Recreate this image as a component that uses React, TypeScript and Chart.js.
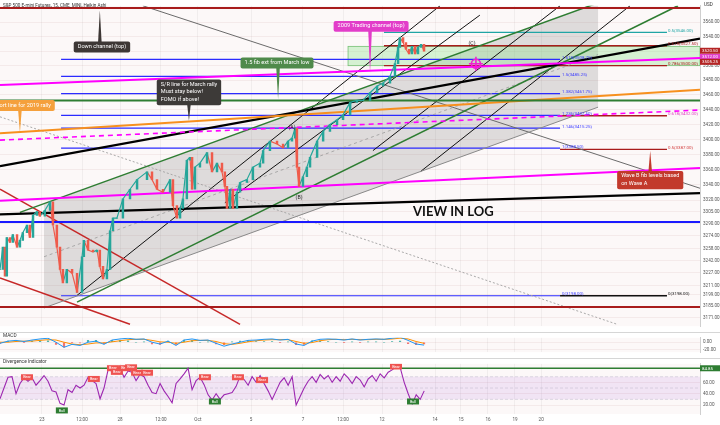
import React, { useEffect, useRef } from 'react';
import { Chart, registerables } from 'chart.js';
Chart.register(...registerables);

const FONT = 'Roboto, "Liberation Sans", sans-serif';
const PLOT_BG = '#fcf8f8';
const UP = '#26a69a';
const DOWN = '#ef5b4b';

// ---------- time axis (trading-day index, 0 = Sep 23) ----------
const xMin = -1.6;
const xMax = 25.11;
const timeTickValues = [0, 1.53, 2.98, 4.54, 5.95, 7.98, 9.96, 11.49, 12.98, 15.0, 15.99, 17.02, 18.05, 19.05];
const timeTickLabels = ['23', '12:00', '28', '12:00', 'Oct', '5', '7', '12:00', '12', '14', '15', '16', '19', '20'];

// ---------- price axis (log) ----------
const priceMin = 3160;
const priceMax = 3583.2;
const priceTicks = [3171, 3185, 3199, 3211, 3227, 3242, 3258, 3274, 3290, 3305, 3320, 3340, 3360, 3380, 3400, 3420, 3440, 3460, 3480, 3500, 3520, 3540, 3560];

// ---------- price series (Heikin Ashi closes, 15 min) ----------
const priceT = [-1.60,-1.49,-1.41,-1.34,-1.22,-1.11,-0.95,-0.84,-0.73,-0.57,
  -0.46,-0.34,-0.19,-0.08,0.11,0.31,0.42,0.57,0.69,0.80,
  0.95,1.15,1.34,1.53,1.60,1.76,1.95,2.10,2.21,2.33,
  2.48,2.60,2.71,2.86,3.09,3.36,3.63,4.01,4.20,4.39,
  4.62,4.89,5.00,5.15,5.27,5.38,5.53,5.65,5.73,5.84,
  6.03,6.30,6.49,6.68,6.87,6.98,7.06,7.18,7.29,7.44,
  7.56,7.82,8.05,8.32,8.44,8.70,8.97,9.20,9.39,9.54,
  9.66,9.73,9.81,9.96,10.11,10.23,10.50,10.73,10.99,11.26,
  11.49,11.76,12.02,12.25,12.52,12.79,13.02,13.28,13.47,13.59,
  13.66,13.78,13.89,14.01,14.12,14.24,14.35,14.47,14.58];
const priceClose = [3231.3,3259.5,3222.8,3271.9,3265.7,3275.6,3259.5,3268.2,3278.1,3288.0,
  3271.9,3300.5,3305.5,3299.3,3306.8,3318.0,3288.0,3259.5,3231.3,3214.3,
  3231.3,3226.4,3202.1,3247.3,3268.2,3255.8,3253.4,3255.8,3235.0,3219.1,
  3231.3,3280.6,3296.8,3296.8,3321.8,3334.4,3347.0,3357.2,3347.0,3334.4,
  3330.6,3347.0,3313.0,3296.8,3309.3,3321.8,3372.5,3376.3,3334.4,3363.5,
  3368.7,3382.7,3357.2,3368.7,3357.2,3338.2,3309.3,3334.4,3309.3,3330.6,
  3343.2,3347.0,3363.5,3368.7,3385.3,3398.0,3394.1,3389.0,3398.0,3401.9,
  3414.9,3363.5,3338.2,3350.8,3363.5,3376.3,3398.0,3411.0,3420.1,3426.6,
  3433.1,3450.0,3452.6,3452.6,3463.1,3472.2,3476.2,3485.3,3502.7,3525.3,
  3538.6,3532.0,3522.6,3516.0,3526.6,3516.0,3525.3,3529.3,3520.0];

// ---------- drawn lines [t, price] ----------
const topRedLine = [[xMin, 3580], [xMax, 3580]];
const greenHLine = [[xMin, 3452.6], [xMax, 3452.6]];
const blueHLine = [[xMin, 3291.8], [xMax, 3291.8]];
const redHLine = [[xMin, 3184.0], [xMax, 3184.0]];
const magentaUpper = [[xMin, 3473.6], [xMax, 3510.7]];
const magentaDashed = [[xMin, 3399.3], [xMax, 3439.6]];
const magentaLower = [[xMin, 3319.3], [xMax, 3362.3]];
const orangeLine = [[xMin, 3408.4], [xMax, 3467.0]];
const blackUpper = [[xMin, 3364.8], [xMax, 3537.3]];
const blackLower = [[xMin, 3301.8], [xMax, 3329.4]];
const greenChannelTop = [[-0.84, 3304.3], [21.22, 3587.3]];
const greenLower = [[1.34, 3190.0], [24.27, 3583.2]];
const grayChannelBottom = [[0.08, 3182.8], [21.22, 3443.5]];
const grayChannelMid = [[0.08, 3247.3], [21.22, 3515.3]];
const grayDownLine = [[3.85, 3583.2], [xMax, 3335.7]];
const grayDotted = [[xMin, 3430.5], [21.95, 3162.4]];
const redDown1 = [[xMin, 3334.4], [7.56, 3162.4]];
const redDown2 = [[xMin, 3220.4], [3.36, 3162.4]];
const thinBlack1 = [[1.34, 3198.5], [15.19, 3583.2]];
const thinBlack2 = [[6.98, 3316.8], [16.71, 3570.0]];
const thinBlack3 = [[12.63, 3385.3], [19.77, 3583.2]];
const thinBlack4 = [[14.43, 3357.2], [22.44, 3583.2]];
const channelPolygon = [[0.08, 3315.5], [21.22, 3587.3], [21.22, 3443.5], [0.08, 3182.8]];
const greenZoneT = [11.68, xMax];
const greenZoneP = [3500.0, 3526.6];

// fib extension (blue) from March low
const fibBlueSpan = [0.73, 19.77];
const fibBlueLevels = [3198.0, 3388.5, 3415.25, 3432.5, 3461.75, 3485.25, 3508.75];
const fibBlueLabels = ['0(3198.00)', '1(3388.50)', '1.146(3415.25)', '1.236(3432.50)', '1.382(3461.75)', '1.5(3485.25)', '1.618(3508.75)'];
// Wave B fib levels based on Wave A
const waveBSpan = [19.77, 23.85];
const waveBLevels = [3198.0, 3387.0, 3432.0];
const waveBLabels = ['0(3198.00)', '0.5(3387.00)', '0.618(3432.00)'];
const waveBColors = ['#111111', '#a81c1c', '#a81c1c'];
const waveBTextColors = ['#111111', '#d23a3a', '#e040c0'];
const upperFibSpan = [13.05, 23.85];
const upperFibLevels = [3500.0, 3527.5, 3546.0];
const upperFibLabels = ['0.786(3500.00)', '0.618(3527.50)', '0.5(3546.00)'];
const upperFibColors = ['#a81c1c', '#a81c1c', '#1fa5a5'];

// callouts
const calloutText = [
  ['Down channel (top)'],
  ['2009 Trading channel (top)'],
  ['1.5 fib ext from March low'],
  ['S/R line for March rally', 'Must stay below!', 'FOMO if above!'],
  ['Support line for 2019 rally'],
  ['Wave B fib levels based', 'on Wave A'],
];
const calloutColors = ['#3d3735', '#e23dc9', '#4f8a4b', '#3d3a38', '#f5a03c', '#c23a2c'];
const calloutBoxT = [2.29, 12.56, 8.97, 5.61, -0.88, 23.21];
const calloutTipT = [2.21, 12.52, 9.01, 5.61, -0.84, 23.21];
const calloutTipP = [3576.4, 3489.7, 3453.9, 3425.3, 3408.4, 3385.3];
const calloutEdgeP = [3533.3, 3546.7, 3496.2, 3446.1, 3438.3, 3358.4];

const waveLabels = ['(A)', '(B)', '(C)'];
const waveLabelT = [9.54, 9.81, 16.41];
const waveLabelP = [3416.2, 3323.1, 3530.6];
const targetPoint = [16.56, 3502.7];
const logNoteT = 14.16;
const logNoteP = 3305.5;

const axisBoxValues = [3520.5, 3512.0, 3505.25];
const axisBoxColors = ['#b42424', '#e23dc9', '#b42424'];

// ---------- MACD ----------
const macdStartT = -1.6;
const macdStepT = 0.3053;
const macdValues = [-3,3,5,2,6,9,11,0,-14,-6,-9,0,3,-6,6,9,11,8,9,0,-5,3,-9,6,9,5,6,-3,-11,-5,0,5,6,8,9,6,8,-5,-9,3,8,9,8,6,9,6,8,9,8,11,14,5,-5,-8];
const signalValues = [0,0,2,3,3,5,7,6,0,-5,-7,-5,-2,-2,1,4,7,8,8,5,1,0,-3,0,4,5,5,2,-4,-6,-3,1,4,6,7,7,7,2,-3,-1,4,7,8,7,8,7,7,8,8,9,11,9,2,-3];
const macdTicks = [0, -20];

// ---------- Divergence indicator (RSI) ----------
const rsiStartT = -1.6;
const rsiStepT = 0.1527;
const rsiValues = [31,50,69,70,40,58,68,62,68,55,63,72,62,45,43,23,20,47,42,55,
  50,55,69,63,58,31,50,82,80,82,85,69,80,78,63,74,70,55,42,40,
  58,45,35,24,58,66,75,85,47,63,69,56,38,29,40,30,38,40,42,53,71,
  65,55,70,60,72,58,45,30,45,60,68,55,70,20,35,50,62,70,60,74,
  66,72,60,70,62,75,68,58,70,64,52,66,72,62,75,68,78,82,88,86,
  60,40,22,38,30,45];
const rsiTicks = [20, 40, 60];
const rsiLevel = 84.85;
const bearT = [-0.57, 1.98, 2.71, 2.86, 3.17, 3.40, 3.63, 4.01, 6.22, 7.48, 8.40, 13.51];
const bearV = [69, 66, 85, 78.5, 85, 86.5, 77, 77, 69, 69, 64, 88];
const bullT = [0.76, 6.60, 14.16];
const bullV = [10.5, 26.3, 26.3];

// ---------- helpers ----------
function seg(pts: number[][], color: string, width: number, dash: number[] = [], order = 10) {
  return {
    type: 'line', data: pts.map(([x, y]) => ({ x, y })), borderColor: color, borderWidth: width,
    borderDash: dash, pointRadius: 0, fill: false, tension: 0, order,
  };
}

function timeScale(showLabels: boolean) {
  return {
    type: 'linear', min: xMin, max: xMax, display: true, offset: false,
    afterBuildTicks(s: any) { s.ticks = timeTickValues.map((v) => ({ value: v })); },
    afterFit(s: any) { s.height = showLabels ? 11 : 0; },
    grid: { color: 'rgba(0,0,0,0.045)', drawTicks: false, offset: false },
    border: { display: false },
    ticks: {
      display: showLabels, autoSkip: false, maxRotation: 0, padding: 3,
      font: { size: 4.6, family: FONT }, color: '#555',
      callback: (_v: any, i: number) => timeTickLabels[i],
    },
  };
}

function rightScale(extra: any) {
  return {
    position: 'right',
    beginAtZero: false,
    afterFit(s: any) { s.width = 20; },
    border: { display: true, color: '#cfcfcf' },
    grid: { color: 'rgba(190,140,140,0.13)', drawTicks: false },
    ticks: { font: { size: 4.6, family: FONT }, color: '#555', padding: 3, callback: (v: any) => Number(v).toFixed(2) },
    ...extra,
  };
}

function roundRect(ctx: any, x: number, y: number, w: number, h: number, r: number) {
  ctx.beginPath();
  ctx.moveTo(x + r, y);
  ctx.lineTo(x + w - r, y); ctx.quadraticCurveTo(x + w, y, x + w, y + r);
  ctx.lineTo(x + w, y + h - r); ctx.quadraticCurveTo(x + w, y + h, x + w - r, y + h);
  ctx.lineTo(x + r, y + h); ctx.quadraticCurveTo(x, y + h, x, y + h - r);
  ctx.lineTo(x, y + r); ctx.quadraticCurveTo(x, y, x + r, y);
  ctx.closePath();
}

function axisBox(ctx: any, x: number, y: number, text: string, bg: string) {
  ctx.fillStyle = bg;
  ctx.fillRect(x, y - 3, 20, 6);
  ctx.fillStyle = '#fff';
  ctx.font = `4.4px ${FONT}`;
  ctx.textAlign = 'left';
  ctx.textBaseline = 'middle';
  ctx.fillText(text, x + 2, y + 0.3);
}

const mainDecor = {
  id: 'mainDecor',
  beforeDraw(chart: any) {
    const { ctx, chartArea: a } = chart;
    ctx.save();
    ctx.fillStyle = '#ffffff';
    ctx.fillRect(0, 0, chart.width, chart.height);
    ctx.fillStyle = PLOT_BG;
    ctx.fillRect(a.left, a.top, a.right - a.left, a.bottom - a.top);
    ctx.restore();
  },
  beforeDatasetsDraw(chart: any) {
    const { ctx, chartArea: a, scales } = chart;
    const x = scales.x, y = scales.y;
    ctx.save();
    ctx.beginPath(); ctx.rect(a.left, a.top, a.right - a.left, a.bottom - a.top); ctx.clip();
    ctx.beginPath();
    channelPolygon.forEach(([t, p], i) => {
      const px = x.getPixelForValue(t), py = y.getPixelForValue(p);
      if (i) ctx.lineTo(px, py); else ctx.moveTo(px, py);
    });
    ctx.closePath();
    ctx.fillStyle = 'rgba(105,105,105,0.2)';
    ctx.fill();
    const zx1 = x.getPixelForValue(greenZoneT[0]), zx2 = x.getPixelForValue(greenZoneT[1]);
    const zy1 = y.getPixelForValue(greenZoneP[1]), zy2 = y.getPixelForValue(greenZoneP[0]);
    ctx.fillStyle = 'rgba(140,230,140,0.35)';
    ctx.fillRect(zx1, zy1, zx2 - zx1, zy2 - zy1);
    ctx.strokeStyle = 'rgba(90,180,90,0.8)';
    ctx.lineWidth = 0.8;
    ctx.strokeRect(zx1, zy1, zx2 - zx1, zy2 - zy1);
    ctx.restore();
  },
  afterDatasetsDraw(chart: any) {
    const { ctx, chartArea: a, scales } = chart;
    const x = scales.x, y = scales.y;
    ctx.save();
    ctx.beginPath(); ctx.rect(a.left, a.top, a.right - a.left, a.bottom - a.top); ctx.clip();
    // fib labels
    ctx.font = `4.4px ${FONT}`;
    ctx.textAlign = 'left';
    ctx.textBaseline = 'bottom';
    fibBlueLevels.forEach((p, i) => {
      ctx.fillStyle = '#3a3aff';
      ctx.fillText(fibBlueLabels[i], x.getPixelForValue(fibBlueSpan[1]) + 2, y.getPixelForValue(p) + 0.5);
    });
    waveBLevels.forEach((p, i) => {
      ctx.fillStyle = waveBTextColors[i];
      ctx.fillText(waveBLabels[i], x.getPixelForValue(waveBSpan[1]) + 1, y.getPixelForValue(p) + 0.5);
    });
    upperFibLevels.forEach((p, i) => {
      ctx.fillStyle = upperFibColors[i];
      ctx.fillText(upperFibLabels[i], x.getPixelForValue(upperFibSpan[1]) + 1, y.getPixelForValue(p) + 0.5);
    });
    // wave labels
    ctx.font = `5.2px ${FONT}`;
    ctx.fillStyle = '#222';
    ctx.textAlign = 'center';
    ctx.textBaseline = 'middle';
    waveLabels.forEach((s, i) => ctx.fillText(s, x.getPixelForValue(waveLabelT[i]), y.getPixelForValue(waveLabelP[i])));
    // target icon
    const tx = x.getPixelForValue(targetPoint[0]), ty = y.getPixelForValue(targetPoint[1]);
    ctx.strokeStyle = '#f020d0';
    ctx.lineWidth = 1.6;
    ctx.beginPath(); ctx.arc(tx, ty, 4.5, 0, Math.PI * 2); ctx.stroke();
    ctx.beginPath();
    ctx.moveTo(tx - 7, ty); ctx.lineTo(tx + 7, ty);
    ctx.moveTo(tx, ty - 7); ctx.lineTo(tx, ty + 7);
    ctx.stroke();
    // VIEW IN LOG
    ctx.font = `bold 13px Lato, ${FONT}`;
    ctx.fillStyle = '#111';
    ctx.textAlign = 'left';
    ctx.textBaseline = 'middle';
    ctx.fillText('VIEW IN LOG', x.getPixelForValue(logNoteT), y.getPixelForValue(logNoteP));
    // callouts
    calloutText.forEach((lines, i) => {
      const size = 5.6;
      ctx.font = `${size}px ${FONT}`;
      const lh = size + 1.8;
      const w = Math.max(...lines.map((l) => ctx.measureText(l).width)) + 8;
      const h = lines.length * lh + 3.5;
      const cx = x.getPixelForValue(calloutBoxT[i]);
      const tipX = x.getPixelForValue(calloutTipT[i]);
      const tipY = y.getPixelForValue(calloutTipP[i]);
      const edgeY = y.getPixelForValue(calloutEdgeP[i]);
      const up = tipY < edgeY;
      const top = up ? edgeY : edgeY - h;
      const left = cx - w / 2;
      ctx.fillStyle = calloutColors[i];
      ctx.beginPath();
      const baseY = up ? top + 1 : top + h - 1;
      ctx.moveTo(tipX - 1.8, baseY); ctx.lineTo(tipX, tipY); ctx.lineTo(tipX + 1.8, baseY); ctx.closePath();
      ctx.fill();
      roundRect(ctx, left, top, w, h, 2);
      ctx.fill();
      ctx.fillStyle = '#ffffff';
      ctx.textBaseline = 'top';
      const multi = lines.length > 1;
      ctx.textAlign = multi ? 'left' : 'center';
      lines.forEach((l, k) => ctx.fillText(l, multi ? left + 4 : cx, top + 2.2 + k * lh));
    });
    ctx.restore();
    // title
    ctx.save();
    ctx.font = `4.6px ${FONT}`;
    ctx.fillStyle = '#333';
    ctx.textAlign = 'left';
    ctx.textBaseline = 'middle';
    ctx.fillText('S&P 500 E-mini Futures, 15, CME_MINI, Heikin Ashi', 3, 6);
    ctx.fillText('USD', 704, 5);
    axisBoxValues.forEach((v, i) => axisBox(ctx, a.right, y.getPixelForValue(v), v.toFixed(2), axisBoxColors[i]));
    ctx.restore();
  },
};

const macdDecor = {
  id: 'macdDecor',
  beforeDraw(chart: any) {
    const { ctx, chartArea: a } = chart;
    ctx.save();
    ctx.fillStyle = '#ffffff'; ctx.fillRect(0, 0, chart.width, chart.height);
    ctx.fillStyle = PLOT_BG; ctx.fillRect(a.left, a.top, a.right - a.left, a.bottom - a.top);
    ctx.restore();
  },
  afterDraw(chart: any) {
    const { ctx } = chart;
    ctx.save();
    ctx.strokeStyle = '#d6d6d6'; ctx.lineWidth = 1;
    ctx.beginPath(); ctx.moveTo(0, 0.5); ctx.lineTo(chart.width, 0.5); ctx.stroke();
    ctx.font = `4.8px ${FONT}`; ctx.fillStyle = '#333'; ctx.textBaseline = 'middle'; ctx.textAlign = 'left';
    ctx.fillText('MACD', 3, 3.5);
    ctx.restore();
  },
};

const divDecor = {
  id: 'divDecor',
  beforeDraw(chart: any) {
    const { ctx, chartArea: a } = chart;
    ctx.save();
    ctx.fillStyle = '#ffffff'; ctx.fillRect(0, 0, chart.width, chart.height);
    ctx.fillStyle = PLOT_BG; ctx.fillRect(a.left, a.top, a.right - a.left, a.bottom - a.top);
    ctx.restore();
  },
  beforeDatasetsDraw(chart: any) {
    const { ctx, chartArea: a, scales } = chart;
    const y = scales.y;
    ctx.save();
    const y70 = y.getPixelForValue(70), y30 = y.getPixelForValue(30), y50 = y.getPixelForValue(50);
    ctx.fillStyle = 'rgba(170,90,220,0.13)';
    ctx.fillRect(a.left, y70, a.right - a.left, y30 - y70);
    ctx.strokeStyle = 'rgba(150,150,170,0.35)'; ctx.lineWidth = 0.8; ctx.setLineDash([3, 2]);
    [y70, y50, y30].forEach((yy) => { ctx.beginPath(); ctx.moveTo(a.left, yy); ctx.lineTo(a.right, yy); ctx.stroke(); });
    ctx.restore();
  },
  afterDatasetsDraw(chart: any) {
    const { ctx, chartArea: a, scales } = chart;
    const x = scales.x, y = scales.y;
    ctx.save();
    ctx.beginPath(); ctx.rect(a.left, a.top, a.right - a.left, a.bottom - a.top); ctx.clip();
    ctx.font = `3.8px ${FONT}`; ctx.textAlign = 'center'; ctx.textBaseline = 'middle';
    const mark = (t: number, v: number, s: string, bg: string) => {
      const px = x.getPixelForValue(t), py = y.getPixelForValue(v);
      ctx.fillStyle = bg; ctx.fillRect(px - 6, py - 3, 12, 6);
      ctx.fillStyle = '#fff'; ctx.fillText(s, px, py + 0.2);
    };
    bearT.forEach((t, i) => mark(t, bearV[i], 'Bear', '#ef5350'));
    bullT.forEach((t, i) => mark(t, bullV[i], 'Bull', '#2e7d32'));
    ctx.restore();
    ctx.save();
    ctx.strokeStyle = '#d6d6d6'; ctx.lineWidth = 1;
    ctx.beginPath(); ctx.moveTo(0, 0.5); ctx.lineTo(chart.width, 0.5); ctx.stroke();
    ctx.font = `4.8px ${FONT}`; ctx.fillStyle = '#333'; ctx.textBaseline = 'middle'; ctx.textAlign = 'left';
    ctx.fillText('Divergence Indicator', 3, 3.5);
    axisBox(ctx, a.right, y.getPixelForValue(rsiLevel), rsiLevel.toFixed(2), '#2e7d32');
    ctx.restore();
  },
};

function mainConfig(): any {
  const candles = priceClose.map((c, i) => ({ x: priceT[i], y: [i ? priceClose[i - 1] : c, c] }));
  const candleColors = priceClose.map((c, i) => (i && c < priceClose[i - 1] ? DOWN : UP));
  const datasets: any[] = [
    { type: 'bar', data: candles, backgroundColor: candleColors, barThickness: 1.8, order: 0 },
    {
      type: 'line', data: priceClose.map((c, i) => ({ x: priceT[i], y: c })), borderWidth: 1.2, pointRadius: 0, order: 1,
      borderColor: UP,
      segment: { borderColor: (s: any) => (s.p1.parsed.y >= s.p0.parsed.y ? UP : DOWN) },
    },
    seg(topRedLine, '#a81c1c', 2),
    seg(greenHLine, '#2e7d32', 2),
    seg(blueHLine, '#1a1aff', 2),
    seg(redHLine, '#a81c1c', 2),
    seg(magentaUpper, '#ff00ff', 2),
    seg(magentaDashed, '#ff00ff', 1.6, [5, 4]),
    seg(magentaLower, '#ff00ff', 2),
    seg(orangeLine, '#f7901e', 2),
    seg(blackUpper, '#000000', 2.2),
    seg(blackLower, '#000000', 2.2),
    seg(greenChannelTop, '#2e7d32', 1.5),
    seg(greenLower, '#2e7d32', 1.5),
    seg(grayChannelBottom, '#8a8a8a', 1),
    seg(grayChannelMid, '#9a9a9a', 0.8, [3, 3]),
    seg(grayDownLine, '#6a6a6a', 1),
    seg(grayDotted, '#a0a0a0', 0.9, [2, 2]),
    seg(redDown1, '#c62828', 1.5),
    seg(redDown2, '#c62828', 1.5),
    seg(thinBlack1, '#111111', 1),
    seg(thinBlack2, '#111111', 1),
    seg(thinBlack3, '#111111', 1),
    seg(thinBlack4, '#111111', 1),
  ];
  fibBlueLevels.forEach((p) => datasets.push(seg([[fibBlueSpan[0], p], [fibBlueSpan[1], p]], '#2b2bff', 1.2)));
  waveBLevels.forEach((p, i) => datasets.push(seg([[waveBSpan[0], p], [waveBSpan[1], p]], waveBColors[i], 1.4)));
  upperFibLevels.forEach((p, i) => datasets.push(seg([[upperFibSpan[0], p], [upperFibSpan[1], p]], upperFibColors[i], 1.4)));
  return {
    type: 'line',
    data: { datasets },
    options: {
      animation: false, responsive: false,
      layout: { padding: 0, autoPadding: false },
      plugins: { legend: { display: false }, tooltip: { enabled: false } },
      scales: {
        x: timeScale(false),
        y: rightScale({
          type: 'logarithmic', min: priceMin, max: priceMax,
          afterBuildTicks(s: any) { s.ticks = priceTicks.map((v) => ({ value: v })); },
        }),
      },
    },
    plugins: [mainDecor],
  };
}

function macdConfig(): any {
  const xs = macdValues.map((_, i) => macdStartT + i * macdStepT);
  const hist = macdValues.map((m, i) => ({ x: xs[i], y: m - signalValues[i] }));
  return {
    type: 'line',
    data: {
      datasets: [
        { type: 'bar', data: hist, backgroundColor: hist.map((h) => (h.y >= 0 ? 'rgba(38,166,154,0.8)' : 'rgba(239,83,80,0.8)')), barThickness: 1.5, order: 3 },
        { type: 'line', data: macdValues.map((v, i) => ({ x: xs[i], y: v })), borderColor: '#2196f3', borderWidth: 1, pointRadius: 0, order: 1 },
        { type: 'line', data: signalValues.map((v, i) => ({ x: xs[i], y: v })), borderColor: '#ff8f00', borderWidth: 1, pointRadius: 0, order: 2 },
      ],
    },
    options: {
      animation: false, responsive: false,
      layout: { padding: 0, autoPadding: false },
      plugins: { legend: { display: false }, tooltip: { enabled: false } },
      scales: {
        x: timeScale(false),
        y: rightScale({
          type: 'linear', min: -27.7, max: 12.3,
          afterBuildTicks(s: any) { s.ticks = macdTicks.map((v) => ({ value: v })); },
        }),
      },
    },
    plugins: [macdDecor],
  };
}

function divConfig(): any {
  const pts = rsiValues.map((v, i) => ({ x: rsiStartT + i * rsiStepT, y: v }));
  return {
    type: 'line',
    data: {
      datasets: [
        { type: 'line', data: pts, borderColor: '#9c27b0', borderWidth: 1.1, pointRadius: 0, order: 1 },
        seg([[xMin, rsiLevel], [xMax, rsiLevel]], '#2e7d32', 1.5, [], 2),
      ],
    },
    options: {
      animation: false, responsive: false,
      layout: { padding: 0, autoPadding: false },
      plugins: { legend: { display: false }, tooltip: { enabled: false } },
      scales: {
        x: timeScale(true),
        y: rightScale({
          type: 'linear', min: 4.2, max: 92.8,
          afterBuildTicks(s: any) { s.ticks = rsiTicks.map((v) => ({ value: v })); },
        }),
      },
    },
    plugins: [divDecor],
  };
}

export default function App() {
  const mainRef = useRef<HTMLCanvasElement>(null);
  const macdRef = useRef<HTMLCanvasElement>(null);
  const divRef = useRef<HTMLCanvasElement>(null);
  useEffect(() => {
    document.body.style.margin = '0';
    const charts = [
      new Chart(mainRef.current as any, mainConfig()),
      new Chart(macdRef.current as any, macdConfig()),
      new Chart(divRef.current as any, divConfig()),
    ];
    return () => charts.forEach((c) => c.destroy());
  }, []);
  return (
    <div style={{ position: 'relative', width: 720, height: 425, background: '#fff', overflow: 'hidden' }}>
      <canvas ref={mainRef} width={720} height={332} style={{ position: 'absolute', left: 0, top: 0, width: 720, height: 332 }} />
      <canvas ref={macdRef} width={720} height={26} style={{ position: 'absolute', left: 0, top: 332, width: 720, height: 26 }} />
      <canvas ref={divRef} width={720} height={67} style={{ position: 'absolute', left: 0, top: 358, width: 720, height: 67 }} />
    </div>
  );
}
